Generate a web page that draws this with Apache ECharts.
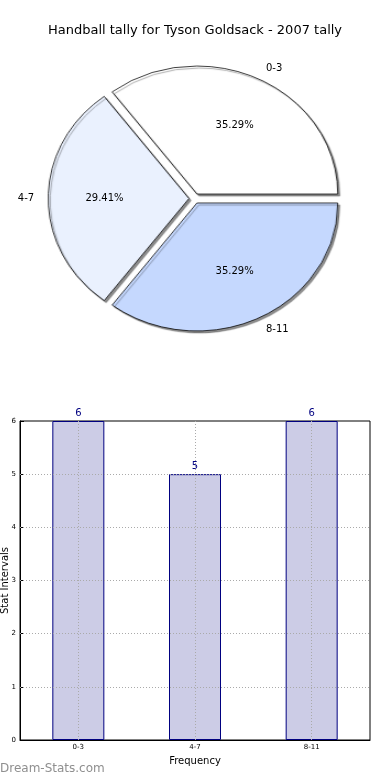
<!DOCTYPE html>
<html>
<head>
<meta charset="utf-8">
<script src="https://cdn.jsdelivr.net/npm/echarts@6/dist/echarts.min.js"></script>
<style>
html,body{margin:0;padding:0;background:#fff;}
#wrap{position:relative;width:390px;height:780px;overflow:hidden;}
#pie{position:absolute;left:0;top:0;width:390px;height:400px;transform-origin:194.5px 198.5px;transform:scaleX(1.1);z-index:1;}
#chart{position:absolute;left:0;top:0;width:390px;height:780px;z-index:2;}
</style>
</head>
<body>
<div id="wrap">
<div id="pie"></div>
<div id="chart"></div>
</div>
<script>
const categories = ['0-3', '4-7', '8-11'];
const values = [6, 5, 6];
const sliceColors = ['#ffffff', '#eaf1fe', '#c5d8fe'];
const yTicks = [0, 1, 2, 3, 4, 5, 6];
const titleText = 'Handball tally for Tyson Goldsack - 2007 tally';

const FONT = 'DejaVu Sans';
const CX = 194.5, CY = 198.5, R = 128, STRETCH = 1.1, OFFSET = 5;
const total = values.reduce((a, b) => a + b, 0);

// mid angle of each slice (counter-clockwise from east), from the data
const midAngles = [];
(function () {
  let cum = 0;
  values.forEach(v => { midAngles.push((cum + v / 2) / total * 2 * Math.PI); cum += v; });
})();

// Slices (drawn in a horizontally stretched layer, like the elliptical original)
const pieChart = echarts.init(document.getElementById('pie'), null, {renderer: 'canvas'});
pieChart.setOption({
  animation: false,
  backgroundColor: 'transparent',
  series: [{
    type: 'pie',
    center: [CX, CY],
    radius: R,
    startAngle: 0,
    clockwise: false,
    silent: true,
    selectedMode: 'multiple',
    selectedOffset: OFFSET,
    data: categories.map((c, i) => ({name: c, value: values[i], selected: true, itemStyle: {color: sliceColors[i]}})),
    itemStyle: {borderColor: '#000', borderWidth: 0.75, shadowColor: 'rgba(0,0,0,0.45)', shadowOffsetX: 1.8, shadowOffsetY: 2, shadowBlur: 1},
    label: {show: false},
    labelLine: {show: false},
    emphasis: {disabled: true}
  }]
});

function labelPos(i, dist) {
  const a = midAngles[i];
  return {x: CX + STRETCH * (dist + OFFSET) * Math.cos(a), y: CY - (dist + OFFSET) * Math.sin(a), c: Math.cos(a)};
}
function layoutPct(p) {
  const q = labelPos(p.dataIndex, 0.6 * R);
  return {x: q.x, y: q.y, align: 'center', verticalAlign: 'middle'};
}
function layoutName(p) {
  const q = labelPos(p.dataIndex, 1.1 * R);
  return {x: q.x, y: q.y, align: q.c >= 0 ? 'left' : 'right', verticalAlign: 'middle'};
}
function labelOnlyData() {
  return categories.map((c, i) => ({name: c, value: values[i], itemStyle: {color: 'rgba(0,0,0,0)', borderWidth: 0}}));
}

const chart = echarts.init(document.getElementById('chart'), null, {renderer: 'canvas'});
const option = {
  animation: false,
  backgroundColor: 'transparent',
  textStyle: {fontFamily: FONT},
  title: {
    text: titleText,
    left: 'center',
    top: 19,
    textStyle: {fontFamily: FONT, fontSize: 13, fontWeight: 'normal', color: '#000'}
  },
  grid: {left: 20, right: 20, top: 421, bottom: 40, containLabel: false, outerBoundsMode: 'none', show: true, borderColor: '#000', borderWidth: 1, backgroundColor: 'transparent'},
  xAxis: {
    type: 'category',
    data: categories,
    name: 'Frequency',
    nameLocation: 'middle',
    nameGap: 16,
    nameTextStyle: {fontFamily: FONT, fontSize: 10, color: '#000'},
    axisLine: {show: true, lineStyle: {color: '#000'}},
    axisTick: {show: true, inside: true, alignWithLabel: true, length: 4, lineStyle: {color: '#000'}},
    axisLabel: {fontFamily: FONT, fontSize: 7, color: '#000', margin: 4},
    splitLine: {show: false}
  },
  yAxis: {
    type: 'value',
    min: 0,
    max: 6,
    interval: 1,
    name: 'Stat Intervals',
    nameLocation: 'middle',
    nameGap: 10,
    nameMoveOverlap: false,
    nameRotate: 90,
    nameTextStyle: {fontFamily: FONT, fontSize: 10, color: '#000'},
    axisLine: {show: true, lineStyle: {color: '#000'}},
    axisTick: {show: true, inside: true, length: 4, lineStyle: {color: '#000'}},
    axisLabel: {fontFamily: FONT, fontSize: 7, color: '#000', margin: 4},
    splitLine: {show: false}
  },
  series: [
    {
      type: 'pie',
      center: [CX, CY],
      radius: R,
      startAngle: 0,
      clockwise: false,
      silent: true,
      selectedMode: false,
      data: labelOnlyData(),
      label: {show: true, position: 'inside', formatter: p => (p.value / total * 100).toFixed(2) + '%', fontFamily: FONT, fontSize: 10, color: '#000', textBorderWidth: 0},
      labelLine: {show: false},
      labelLayout: layoutPct,
      emphasis: {disabled: true}
    },
    {
      type: 'pie',
      center: [CX, CY],
      radius: R,
      startAngle: 0,
      clockwise: false,
      silent: true,
      selectedMode: false,
      data: labelOnlyData(),
      label: {show: true, position: 'outside', formatter: '{b}', fontFamily: FONT, fontSize: 10, color: '#000', textBorderWidth: 0},
      labelLine: {show: false, length: 0, length2: 0},
      labelLayout: layoutName,
      emphasis: {disabled: true}
    },
    {
      type: 'bar',
      data: values,
      barWidth: 52,
      silent: true,
      itemStyle: {color: '#cccce6', borderColor: '#000080', borderWidth: 1},
      label: {show: true, position: 'top', distance: 3, fontFamily: FONT, fontSize: 10, color: '#000080'},
      markLine: {
        silent: true,
        symbol: 'none',
        label: {show: false},
        lineStyle: {color: '#aaaaaa', type: [1, 2], width: 1},
        data: categories.map(c => ({xAxis: c})).concat(yTicks.slice(1, -1).map(v => ({yAxis: v})))
      }
    }
  ],
  graphic: [
    {
      type: 'text',
      left: 0,
      top: 763,
      style: {text: 'Dream-Stats.com', fontFamily: FONT, fontSize: 12, fill: '#8f8f8f'}
    }
  ]
};
chart.setOption(option);
</script>
</body>
</html>
